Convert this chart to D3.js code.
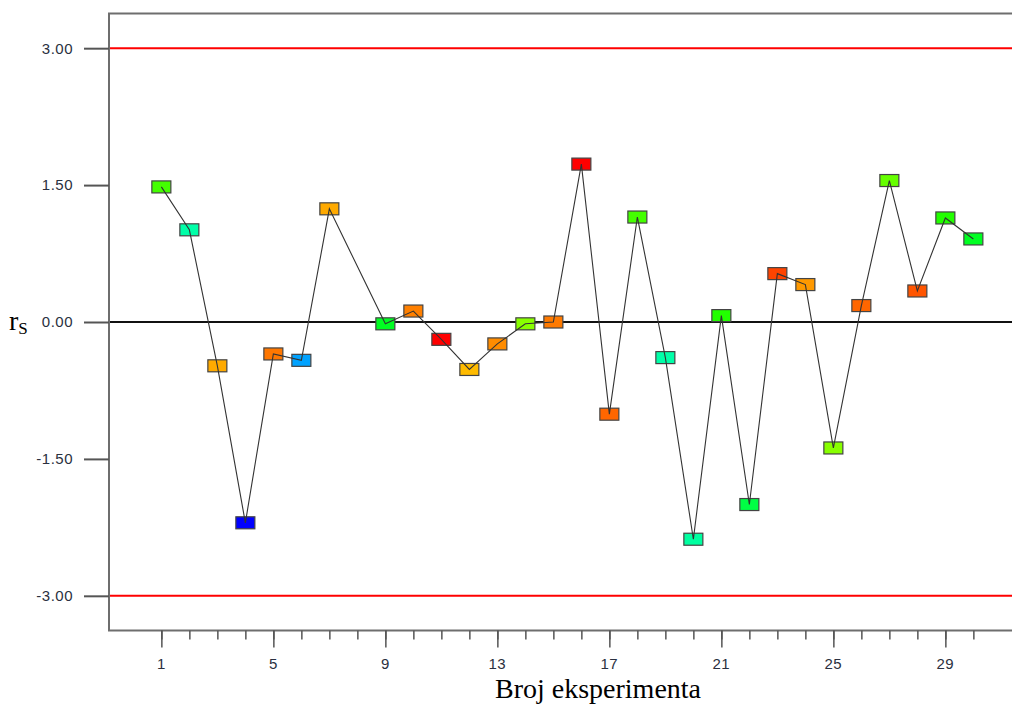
<!DOCTYPE html>
<html><head><meta charset="utf-8">
<script src="https://cdn.jsdelivr.net/npm/d3@7"></script>
<style>
html,body{margin:0;padding:0;background:#fff;}
svg{display:block;}
</style></head>
<body>
<svg id="chart" width="1012" height="706"></svg>
<script>
// Data
const runs = [1,2,3,4,5,6,7,8,9,10,11,12,13,14,15,16,17,18,19,20,21,22,23,24,25,26,27,28,29,30];
const residuals = [1.48,1.01,-0.48,-2.20,-0.35,-0.42,1.24,null,-0.02,0.12,-0.19,-0.52,-0.24,-0.02,0.00,1.73,-1.01,1.15,-0.39,-2.38,0.07,-2.00,0.53,0.41,-1.38,0.18,1.55,0.34,1.14,0.91];
const pointColors = ["#44ff00","#00ffa8","#ffaa00","#0000ff","#ff7700","#00a2ff","#ffaa00",null,"#00ff22","#ff8000","#ff0000","#ffbb00","#ff8c00","#88ff00","#ff7a00","#ff0000","#ff6600","#44ff00","#00ffa8","#00ffa0","#22ff00","#00ff44","#ff4400","#ff9900","#88ff00","#ff6600","#66ff00","#ff5500","#22ff00","#00ff22"];
const yTicks = [-3.00,-1.50,0.00,1.50,3.00];
const yTickLabels = ["-3.00","-1.50","0.00","1.50","3.00"];
const xMajorTicks = [1,5,9,13,17,21,25,29];
const xMinorTicks = d3.range(1,31);
const limits = [3.00,-3.00];
const xTitle = "Broj eksperimenta";

const svg = d3.select("#chart");
const L = 109, R = 1012, T = 13.5, B = 630.5;
const x = d3.scaleLinear().domain([-0.87, 31.38]).range([L, R]);
const y = d3.scaleLinear().domain([-3.38, 3.38]).range([B, T]);

const data = runs.map((r,i)=>({run:r, v:residuals[i], c:pointColors[i]})).filter(d=>d.v!==null);
const tickFont = "Arial, 'Liberation Sans', sans-serif";

// Frame (left, top, bottom)
svg.append("path")
  .attr("d", `M${R},${T}H${L}V${B}H${R}`)
  .attr("fill","none").attr("stroke","#6e6e6e").attr("stroke-width",2);

// Y axis (tick lines via axis, labels as plain text)
const yAxis = d3.axisLeft(y).tickValues(yTicks).tickFormat("").tickSize(25);
const gy = svg.append("g").attr("transform",`translate(${L},0)`).call(yAxis);
gy.select(".domain").remove();
gy.selectAll(".tick line").attr("stroke","#555").attr("stroke-width",2);
svg.selectAll(".ylab").data(yTicks).enter().append("text")
  .attr("x",L-36).attr("y",d=>y(d)).attr("dy","0.36em")
  .attr("text-anchor","end").attr("font-family",tickFont).attr("font-size",15)
  .attr("letter-spacing",0.5).attr("fill","#2a3040")
  .text((d,i)=>yTickLabels[i]);

// X axis minor
const xMinor = d3.axisBottom(x).tickValues(xMinorTicks).tickSize(9).tickFormat("");
const gxm = svg.append("g").attr("transform",`translate(0,${B})`).call(xMinor);
gxm.select(".domain").remove();
gxm.selectAll(".tick line").attr("stroke","#555").attr("stroke-width",1.5);
// X axis major
const xMajor = d3.axisBottom(x).tickValues(xMajorTicks).tickSize(17).tickFormat("");
const gx = svg.append("g").attr("transform",`translate(0,${B})`).call(xMajor);
gx.select(".domain").remove();
gx.selectAll(".tick line").attr("stroke","#555").attr("stroke-width",1.5);
svg.selectAll(".xlab").data(xMajorTicks).enter().append("text")
  .attr("x",d=>x(d)).attr("y",B+33).attr("dy","0.36em")
  .attr("text-anchor","middle").attr("font-family",tickFont).attr("font-size",15)
  .attr("letter-spacing",0.5).attr("fill","#2a3040")
  .text(d=>String(d));

// Limit lines
svg.selectAll(".limit").data(limits).enter().append("line")
  .attr("x1",L+1).attr("x2",R).attr("y1",d=>y(d)).attr("y2",d=>y(d))
  .attr("stroke","#ff0000").attr("stroke-width",2);
// Zero line
svg.append("line").attr("x1",L+1).attr("x2",R).attr("y1",y(0)).attr("y2",y(0))
  .attr("stroke","#111").attr("stroke-width",2);

// Markers
const mw = 19, mh = 12;
svg.selectAll(".pt").data(data).enter().append("rect")
  .attr("x",d=>x(d.run)-mw/2).attr("y",d=>y(d.v)-mh/2)
  .attr("width",mw).attr("height",mh)
  .attr("fill",d=>d.c).attr("stroke","#444").attr("stroke-width",1.2);

// Connecting line (on top)
const line = d3.line().x(d=>x(d.run)).y(d=>y(d.v));
svg.append("path").datum(data).attr("d",line)
  .attr("fill","none").attr("stroke","#333").attr("stroke-width",1.1);

// Axis titles
const yt = svg.append("text").attr("x",9).attr("y",330)
  .attr("font-family","'Liberation Serif','Times New Roman',serif").attr("font-size",28).attr("fill","#000");
yt.append("tspan").text("r");
yt.append("tspan").text("S").attr("font-size",17).attr("dy",4);

svg.append("text").attr("x",598).attr("y",698).attr("text-anchor","middle")
  .attr("font-family","'Liberation Serif','Times New Roman',serif").attr("font-size",28).attr("fill","#000")
  .text(xTitle);
</script>
</body></html>
